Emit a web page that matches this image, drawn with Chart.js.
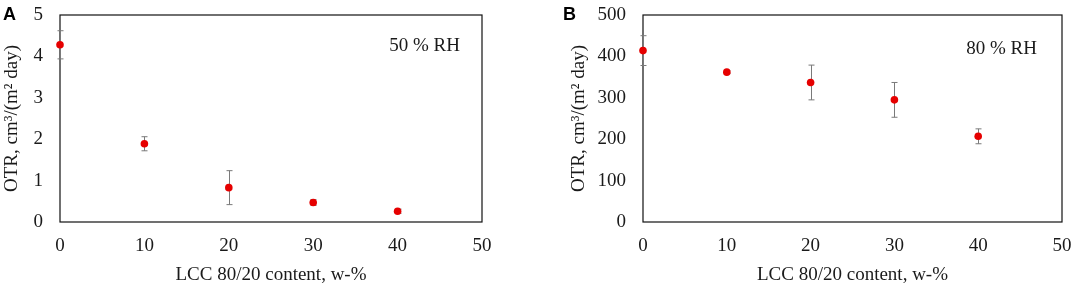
<!DOCTYPE html>
<html><head><meta charset="utf-8">
<script src="https://cdn.jsdelivr.net/npm/chart.js@4.4.1/dist/chart.umd.min.js"></script>
<style>
html,body{margin:0;padding:0;background:#fff;}
#wrap{position:relative;width:1072px;height:287px;}
.pane{position:absolute;top:0;width:536px;height:287px;}
</style></head>
<body><div id="wrap">
<div class="pane" style="left:0"><canvas id="cA"></canvas></div>
<div class="pane" style="left:536px"><canvas id="cB"></canvas></div>
</div>
<script>
const categories = [0, 10, 20, 30, 40];
const otr50 = [4.28, 1.89, 0.83, 0.47, 0.26];
const err50 = [0.34, 0.17, 0.41, 0.07, 0.05];
const otr80 = [414, 362, 337, 295, 207];
const err80 = [36, 3, 42, 42, 18];
const xTickLabels = [0, 10, 20, 30, 40, 50];
const yTicks50 = [0, 1, 2, 3, 4, 5];
const yTicks80 = [0, 100, 200, 300, 400, 500];

const SERIF = '"Liberation Serif","Times New Roman",serif';
const TXT = '#1a1a1a';
const FS = 19;

function makeChart(id, vals, errs, yTicks, panel, note, cfg) {
  const data = categories.map((c, i) => ({x: c, y: vals[i]}));
  const plugin = {
    id: 'deco' + panel,
    beforeDatasetsDraw(chart) {
      const {ctx, chartArea: a, scales: {x, y}} = chart;
      ctx.save();
      ctx.strokeStyle = '#111';
      ctx.lineWidth = 1.2;
      ctx.strokeRect(a.left, a.top, a.right - a.left, a.bottom - a.top);
      ctx.strokeStyle = '#7a7a7a';
      ctx.lineWidth = 1;
      categories.forEach((c, i) => {
        const px = Math.round(x.getPixelForValue(c)) + 0.5;
        const t = y.getPixelForValue(vals[i] + errs[i]);
        const b = y.getPixelForValue(vals[i] - errs[i]);
        ctx.beginPath();
        ctx.moveTo(px, t); ctx.lineTo(px, b);
        ctx.moveTo(px - 3, t); ctx.lineTo(px + 3, t);
        ctx.moveTo(px - 3, b); ctx.lineTo(px + 3, b);
        ctx.stroke();
      });
      ctx.restore();
    },
    afterDraw(chart) {
      const {ctx, chartArea: a} = chart;
      ctx.save();
      ctx.fillStyle = TXT;
      ctx.font = FS + 'px ' + SERIF;
      ctx.textAlign = 'right';
      ctx.textBaseline = 'middle';
      ctx.fillText(note, a.right - cfg.noteRight, a.top + cfg.noteTop);
      ctx.fillStyle = '#000';
      ctx.font = 'bold 18px "Liberation Sans",Arial,sans-serif';
      ctx.textAlign = 'left';
      ctx.fillText(panel, cfg.labelX, 15);
      ctx.restore();
    }
  };
  return new Chart(document.getElementById(id), {
    type: 'scatter',
    data: {datasets: [{data, backgroundColor: 'rgb(230,0,0)', borderColor: 'rgb(230,0,0)',
      pointRadius: 3.8, pointHoverRadius: 3.8, borderWidth: 0, clip: false}]},
    options: {
      responsive: true, maintainAspectRatio: false, animation: false,
      events: [],
      layout: {padding: {left: cfg.padLeft, right: cfg.padRight, top: 15, bottom: 0}},
      plugins: {legend: {display: false}, tooltip: {enabled: false}},
      scales: {
        x: {
          type: 'linear', min: 0, max: 50,
          afterBuildTicks(s) { s.ticks = xTickLabels.map(v => ({value: v})); },
          afterFit(s) { s.height = 65; s.paddingLeft = 0; s.paddingRight = 0; },
          grid: {display: false, drawTicks: false, tickLength: 0},
          border: {display: false},
          ticks: {padding: 13, color: TXT, font: {family: SERIF, size: FS}, maxRotation: 0},
          title: {display: true, text: 'LCC 80/20 content, w-%', color: TXT,
            font: {family: SERIF, size: FS}, padding: {top: 0, bottom: 1}}
        },
        y: {
          type: 'linear', min: yTicks[0], max: yTicks[yTicks.length - 1],
          afterBuildTicks(s) { s.ticks = yTicks.map(v => ({value: v})); },
          afterFit(s) { s.width = cfg.yWidth; s.paddingTop = 0; s.paddingBottom = 0; },
          grid: {display: false, drawTicks: false, tickLength: 0},
          border: {display: false},
          ticks: {padding: 17, color: TXT, font: {family: SERIF, size: FS}},
          title: {display: true, text: 'OTR, cm³/(m² day)', color: TXT,
            font: {family: SERIF, size: FS}, padding: {top: cfg.yTitlePad, bottom: 0}}
        }
      }
    },
    plugins: [plugin]
  });
}

makeChart('cA', otr50, err50, yTicks50, 'A', '50 % RH',
  {padLeft: 0, padRight: 54, yWidth: 60, yTitlePad: 1, noteRight: 22, noteTop: 31, labelX: 3});
makeChart('cB', otr80, err80, yTicks80, 'B', '80 % RH',
  {padLeft: 31, padRight: 10, yWidth: 76, yTitlePad: 1, noteRight: 25, noteTop: 34, labelX: 27});
</script>
</body></html>
